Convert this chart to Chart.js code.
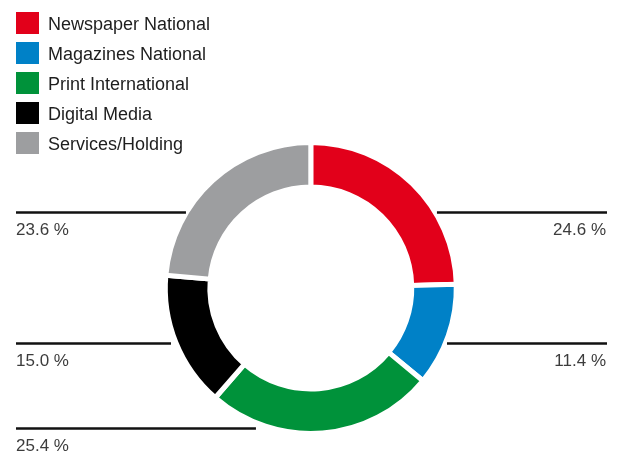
<!DOCTYPE html>
<html lang="en">
<head>
<meta charset="utf-8">
<title>Revenue by segment</title>
<script src="https://cdn.jsdelivr.net/npm/chart.js@4.4.0/dist/chart.umd.min.js"></script>
<style>
  html, body { margin: 0; padding: 0; background: #fff; }
  #wrap { position: relative; width: 621px; height: 452px; }
</style>
</head>
<body>
<div id="wrap"><canvas id="myChart" width="621" height="452"></canvas></div>
<script>
'use strict';

// ******* DATA *******
let segmentNames = ['Newspaper National', 'Magazines National', 'Print International', 'Digital Media', 'Services/Holding'];
let segmentShares = [24.6, 11.4, 25.4, 15.0, 23.6];
let segmentColors = ['#e2001a', '#0081c7', '#00923a', '#000000', '#9d9ea0'];

// ******* CALLOUT LAYOUT *******
// side, line height and line end, both in units of the ring radius from its centre
let calloutSide = ['right', 'right', 'left', 'left', 'left'];
let calloutLineY = [-0.52, 0.377, 0.962, 0.375, -0.524];
let calloutLineEnd = [0.867, 0.936, -0.377, -0.961, -0.858];

const FONT = '"Liberation Sans", Arial, Helvetica, sans-serif';

// ****** HELPERS ******
function formatShare(value) {
  return value.toFixed(1) + ' %';
}

// legend in the top-left corner
let cornerLegend = {
  id: 'cornerLegend',
  afterDraw(chart) {
    let ctx = chart.ctx;
    let ds = chart.data.datasets[0];
    ctx.save();
    ctx.font = '18px ' + FONT;
    ctx.textBaseline = 'alphabetic';
    ctx.textAlign = 'left';
    for (let i = 0; i < chart.data.labels.length; i++) {
      let top = 12 + i * 30;
      ctx.fillStyle = ds.backgroundColor[i];
      ctx.fillRect(16, top, 23, 22);
      ctx.fillStyle = '#1e1e1e';
      ctx.fillText(chart.data.labels[i], 48, top + 17.5);
    }
    ctx.restore();
  }
};

// horizontal leader lines with the share printed under them
let shareCallouts = {
  id: 'shareCallouts',
  afterDraw(chart) {
    let ctx = chart.ctx;
    let meta = chart.getDatasetMeta(0);
    let values = chart.data.datasets[0].data;
    ctx.save();
    ctx.font = '17px ' + FONT;
    ctx.textBaseline = 'alphabetic';
    for (let i = 0; i < meta.data.length; i++) {
      let arc = meta.data[i];
      let r = arc.outerRadius;
      let y = Math.round(arc.y + calloutLineY[i] * r) + 0.5;
      let end = arc.x + calloutLineEnd[i] * r;
      let x0 = calloutSide[i] === 'left' ? 16 : end;
      let x1 = calloutSide[i] === 'left' ? end : 607;

      ctx.strokeStyle = '#111';
      ctx.lineWidth = 2.5;
      ctx.beginPath();
      ctx.moveTo(x0, y);
      ctx.lineTo(x1, y);
      ctx.stroke();

      ctx.fillStyle = '#3c3c3c';
      ctx.textAlign = calloutSide[i];
      ctx.fillText(formatShare(values[i]), calloutSide[i] === 'left' ? 16 : 606, y + 22.5);
    }
    ctx.restore();
  }
};

// ****** CHART ******
const ctx = document.getElementById('myChart').getContext('2d');
const myChart = new Chart(ctx, {
  type: 'doughnut',
  data: {
    labels: segmentNames,
    datasets: [{
      data: segmentShares,
      backgroundColor: segmentColors,
      borderColor: '#ffffff',
      borderWidth: 5,
      hoverOffset: 0
    }]
  },
  options: {
    responsive: false,
    animation: false,
    cutout: '69.4%',
    layout: {
      padding: { left: 162.8, right: 162.2, top: 140, bottom: 16 }
    },
    plugins: {
      legend: { display: false },
      tooltip: { enabled: false }
    }
  },
  plugins: [cornerLegend, shareCallouts]
});
</script>
</body>
</html>
